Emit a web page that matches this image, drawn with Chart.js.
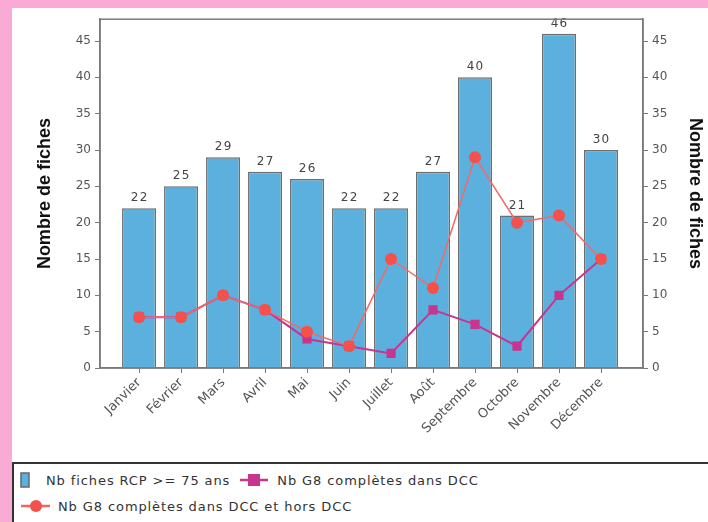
<!DOCTYPE html>
<html>
<head>
<meta charset="utf-8">
<script src="https://cdn.jsdelivr.net/npm/chart.js@4.4.0/dist/chart.umd.min.js"></script>
<style>
  html, body { margin: 0; padding: 0; }
  body { width: 708px; height: 522px; background: #f9aad5; position: relative; overflow: hidden; }
  #panel { position: absolute; left: 12px; top: 8px; width: 696px; height: 514px; background: #fff; }
  #wrap { position: absolute; left: 0; top: 0; width: 696px; height: 452px; }
  #legend {
    position: absolute; left: 0; top: 454px; width: 700px; height: 70px;
    border: 2px solid #333; background: #fff;
    font-family: "DejaVu Sans", sans-serif; font-size: 13px; letter-spacing: 0.9px; color: #333;
  }
  .row { position: absolute; display: flex; align-items: center; white-space: nowrap; }
  .row svg { flex: none; }
</style>
</head>
<body>
<div id="panel">
  <div id="wrap"><canvas id="chart"></canvas></div>
  <div id="legend">
    <div class="row" style="top:8px; left:6px;">
      <svg width="10" height="16"><rect x="1" y="1" width="8" height="14" fill="#5bb0de" stroke="#666" stroke-width="1.5"/></svg>
      <span style="margin-left:16px; margin-right:9px;">Nb fiches RCP &gt;= 75 ans</span>
      <svg width="30" height="16"><line x1="1" y1="8" x2="29" y2="8" stroke="#c8358f" stroke-width="2.5"/><rect x="9" y="2" width="12" height="12" fill="#c8358f"/></svg>
      <span style="margin-left:8px;">Nb G8 complètes dans DCC</span>
    </div>
    <div class="row" style="top:34px; left:6px;">
      <svg width="31" height="16"><line x1="1" y1="8" x2="30" y2="8" stroke="#f46464" stroke-width="2.5"/><circle cx="16" cy="8" r="6" fill="#f4504c"/></svg>
      <span style="margin-left:7px;">Nb G8 complètes dans DCC et hors DCC</span>
    </div>
  </div>
</div>
<script>
const months = ['Janvier', 'Février', 'Mars', 'Avril', 'Mai', 'Juin', 'Juillet', 'Août', 'Septembre', 'Octobre', 'Novembre', 'Décembre'];
const fichesRCP = [22, 25, 29, 27, 26, 22, 22, 27, 40, 21, 46, 30];
const g8DansDCC = [7, 7, 10, 8, 4, 3, 2, 8, 6, 3, 10, 15];
const g8DansEtHorsDCC = [7, 7, 10, 8, 5, 3, 15, 11, 29, 20, 21, 15];
const yTicks = [0, 5, 10, 15, 20, 25, 30, 35, 40, 45];

// bar value labels + frame around the plot
const extras = {
  id: 'extras',
  afterDatasetsDraw(chart) {
    const { ctx, chartArea } = chart;
    const meta = chart.getDatasetMeta(2);
    ctx.save();
    ctx.font = '12px "DejaVu Sans", sans-serif';
    ctx.fillStyle = '#444';
    ctx.textAlign = 'center';
    ctx.textBaseline = 'bottom';
    meta.data.forEach((bar, i) => {
      ctx.fillText(String(fichesRCP[i]).split('').join('\u200A'), bar.x, bar.y - 4);
    });
    ctx.strokeStyle = '#7a7a7a';
    ctx.lineWidth = 1.5;
    ctx.strokeRect(chartArea.left, chartArea.top, chartArea.right - chartArea.left, chartArea.bottom - chartArea.top);
    ctx.restore();
  }
};

const tickFont = { family: '"DejaVu Sans", sans-serif', size: 12 };
const xFont = { family: '"DejaVu Sans", sans-serif', size: 13 };
const titleFont = { family: '"Liberation Sans", Arial, sans-serif', size: 18, weight: 'bold' };
const keepTicks = (scale) => {
  scale.ticks = yTicks.map(v => ({ value: v }));
};

new Chart(document.getElementById('chart'), {
  type: 'bar',
  data: {
    labels: months,
    datasets: [
      {
        type: 'line',
        label: 'Nb G8 complètes dans DCC et hors DCC',
        data: g8DansEtHorsDCC,
        borderColor: '#f46868',
        backgroundColor: '#f4504c',
        borderWidth: 1.5,
        pointStyle: 'circle',
        pointRadius: 6,
        pointBorderWidth: 0,
        yAxisID: 'y',
        order: 1
      },
      {
        type: 'line',
        label: 'Nb G8 complètes dans DCC',
        data: g8DansDCC,
        borderColor: '#c8358f',
        backgroundColor: '#c8358f',
        borderWidth: 2,
        pointStyle: 'rect',
        pointRadius: 6.5,
        pointBorderWidth: 0,
        yAxisID: 'y',
        order: 2
      },
      {
        label: 'Nb fiches RCP >= 75 ans',
        data: fichesRCP,
        backgroundColor: '#5bb0de',
        borderColor: '#6e6e6e',
        borderWidth: 1.5,
        barPercentage: 0.81,
        categoryPercentage: 1,
        yAxisID: 'y',
        order: 3
      }
    ]
  },
  options: {
    responsive: true,
    maintainAspectRatio: false,
    animation: false,
    layout: { padding: { top: 7, bottom: 0, left: 0, right: 0 } },
    plugins: {
      legend: { display: false },
      tooltip: { enabled: false }
    },
    scales: {
      x: {
        offset: false,
        grid: { display: true, drawOnChartArea: false, drawTicks: true, tickLength: 5, color: '#7a7a7a', offset: false },
        border: { display: true, color: '#7a7a7a', width: 1.5 },
        ticks: { font: xFont, color: '#555', maxRotation: 45, minRotation: 45, padding: 2 },
        // leave extra room on both sides of the months, like the original
        afterBuildTicks: (scale) => {
          scale._startValue = -0.93;
          scale._valueRange = 12.93;
        },
        afterFit: (scale) => { scale.height = 92; }
      },
      y: {
        position: 'left',
        min: 0,
        max: 48,
        afterBuildTicks: keepTicks,
        grid: { drawOnChartArea: false, drawTicks: true, tickLength: 5, color: '#7a7a7a' },
        border: { display: true, color: '#7a7a7a', width: 1.5 },
        ticks: { font: tickFont, color: '#555', padding: 4 },
        title: { display: true, text: 'Nombre de fiches', font: titleFont, color: '#111', padding: { top: 22, bottom: 0 } },
        afterFit: (scale) => { scale.width = 88; }
      },
      y2: {
        position: 'right',
        min: 0,
        max: 48,
        afterBuildTicks: keepTicks,
        grid: { drawOnChartArea: false, drawTicks: true, tickLength: 5, color: '#7a7a7a' },
        border: { display: true, color: '#7a7a7a', width: 1.5 },
        ticks: { font: tickFont, color: '#555', padding: 4 },
        title: { display: true, text: 'Nombre de fiches', font: titleFont, color: '#111', padding: { top: 2, bottom: 0 } },
        afterFit: (scale) => { scale.width = 65; }
      }
    }
  },
  plugins: [extras]
});
</script>
</body>
</html>
